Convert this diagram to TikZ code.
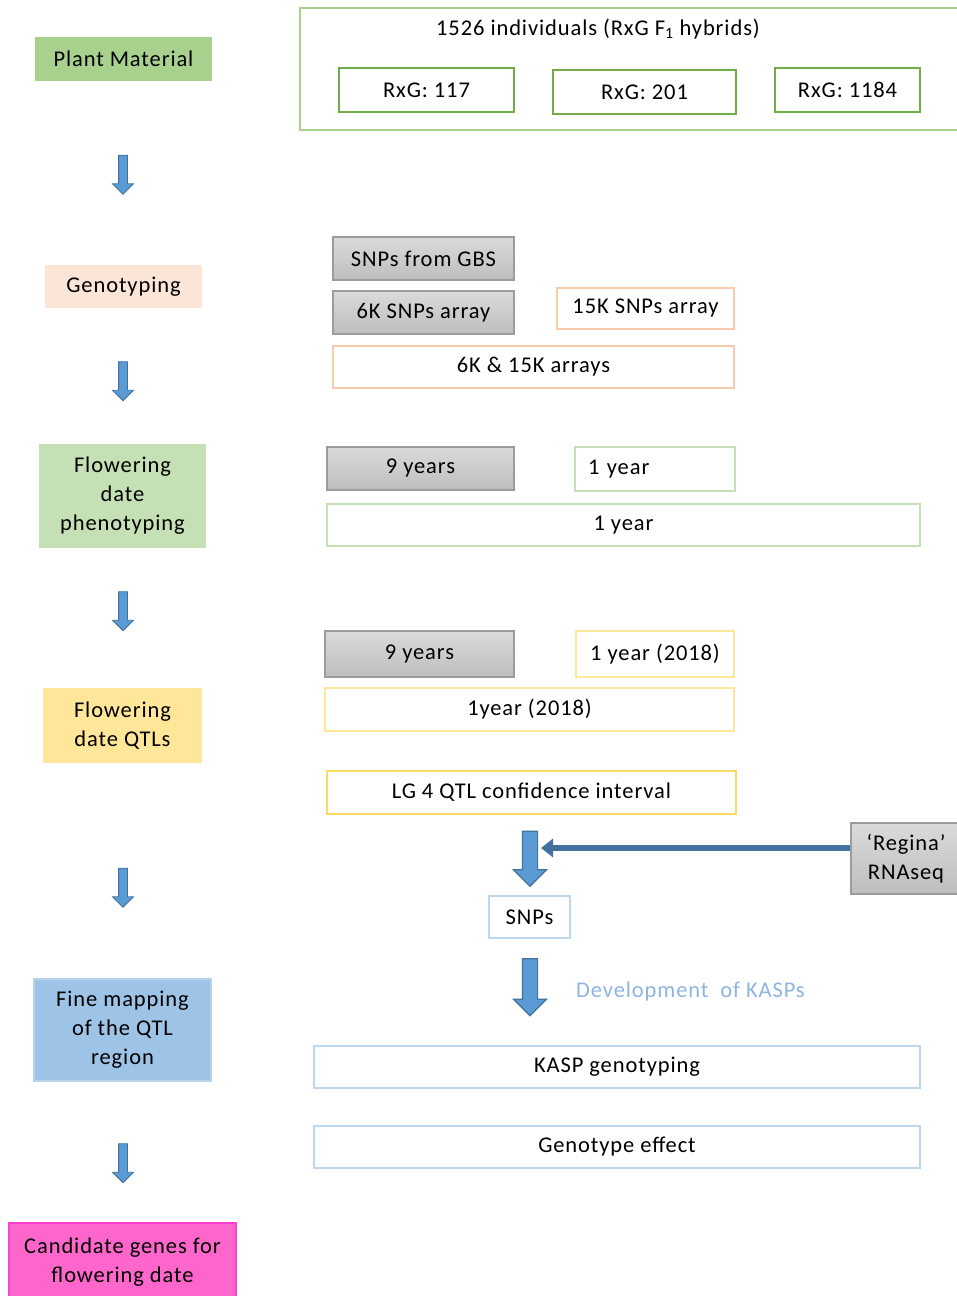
\documentclass[tikz,border=0pt]{standalone}
\usepackage{fontspec}
\setmainfont{Carlito}[LetterSpace=4]
\usetikzlibrary{arrows.meta,shapes.arrows}
\definecolor{PlantGreen}{HTML}{A9D18E}
\definecolor{RxgGreen}{HTML}{70AD47}
\definecolor{PhenoGreen}{HTML}{C5E0B4}
\definecolor{GenoPeach}{HTML}{FBE5D6}
\definecolor{EdgePeach}{HTML}{F8CBAD}
\definecolor{QtlYellow}{HTML}{FFE699}
\definecolor{EdgeYellow}{HTML}{FFD966}
\definecolor{FineBlue}{HTML}{9DC3E6}
\definecolor{EdgeBlue}{HTML}{BDD7EE}
\definecolor{KaspBlue}{HTML}{8EB4E3}
\definecolor{CandPink}{HTML}{FF66CC}
\definecolor{EdgePink}{HTML}{FF3FCF}
\definecolor{ArrowFill}{HTML}{5B9BD5}
\definecolor{ArrowEdge}{HTML}{41719C}
\definecolor{GrayTop}{HTML}{DADADA}
\definecolor{GrayBot}{HTML}{BEBEBE}
\definecolor{GrayEdge}{HTML}{9C9C9C}

\begin{document}
\begin{tikzpicture}[x=1pt, y=-1pt,
  every node/.style={font=\fontsize{22.5}{29}\selectfont, inner sep=0pt, align=center},
  sz/.style 2 args={minimum width=#1pt, minimum height=#2pt},
  stage/.style={draw=none},
  outline/.style={draw=#1, line width=2.5pt, fill=white},
  graybox/.style={draw=GrayEdge, line width=2.5pt, top color=GrayTop, bottom color=GrayBot},
  stepdown/.style={single arrow, draw=ArrowEdge, fill=ArrowFill, line width=0.8pt,
    shape border rotate=270, inner sep=4pt, single arrow head extend=6pt,
    single arrow head indent=0pt, minimum height=39pt},
  fatdown/.style={single arrow, draw=ArrowEdge, fill=ArrowFill, line width=1.2pt,
    shape border rotate=270, inner sep=7pt, single arrow head extend=9pt,
    single arrow head indent=0pt, minimum height=#1pt}]
  \useasboundingbox (0,0) rectangle (956,1296);

  % left column: stages
  \node[stage, fill=PlantGreen, sz={177}{44}] (plant) at (123.5,59) {Plant Material};
  \node[stage, fill=GenoPeach, sz={157}{43}] (geno) at (123.5,286.5) {Genotyping};
  \node[stage, fill=PhenoGreen, sz={167}{104}] (pheno) at (122.5,496) {Flowering\\date\\phenotyping};
  \node[stage, fill=QtlYellow, sz={159}{75}] (qtl) at (122.5,725.5) {Flowering\\date QTLs};
  \node[draw=EdgeBlue!80!FineBlue, line width=2pt, fill=FineBlue, sz={177}{102}] (fine) at (122.5,1030) {Fine mapping\\of the QTL\\region};
  \node[draw=EdgePink, line width=2pt, fill=CandPink, sz={227}{78}] (cand) at (122.5,1262) {Candidate genes for\\flowering date};
  \foreach \y [count=\i] in {172.5,379,609,885.5,1161} {
    \node[stepdown] (down\i) at (123,\y) {};
  }

  % plant material
  \node[outline=PlantGreen, sz={662}{122}] (pop) at (631,69) {};
  \node (popt) at (598,29) {1526 individuals (RxG F\textsubscript{1} hybrids)};
  \node[outline=RxgGreen, sz={175}{44}] (rxg117) at (426.5,90) {RxG: 117};
  \node[outline=RxgGreen, sz={183}{44}] (rxg201) at (644.5,92) {RxG: 201};
  \node[outline=RxgGreen, sz={145}{44}] (rxg1184) at (847.5,90) {RxG: 1184};

  % genotyping
  \node[graybox, sz={181}{43}] (gbs) at (423.5,258.5) {SNPs from GBS};
  \node[graybox, sz={181}{43}] (six) at (423.5,312.5) {6K SNPs array};
  \node[outline=EdgePeach, sz={177}{41}] (fifteen) at (645.5,308.5) {15K SNPs array};
  \node[outline=EdgePeach, sz={401}{42}] (both) at (533.5,367) {6K \& 15K arrays};

  % phenotyping
  \node[graybox, sz={187}{43}] (nineA) at (420.5,468.5) {9 years};
  \node[outline=PhenoGreen, text width=134pt, align=left, inner xsep=13pt, minimum height=44pt] (oneA) at (655,469) {1 year};
  \node[outline=PhenoGreen, sz={593}{42}] (oneAll) at (623.5,525) {1 year};

  % QTLs
  \node[graybox, sz={189}{46}] (nineB) at (419.5,654) {9 years};
  \node[outline=QtlYellow, sz={158}{46}] (oneB) at (655,654) {1 year (2018)};
  \node[outline=QtlYellow, sz={409}{43}] (oneBAll) at (529.5,709.5) {1year (2018)};
  \node[outline=EdgeYellow, sz={409}{43}] (lg4) at (531.5,792.5) {LG 4 QTL confidence interval};

  % fine mapping
  \node[fatdown=55] (fatA) at (530,855) {};
  \node[graybox, sz={110}{71}] (regina) at (906,858.5) {‘Regina’\\RNAseq};
  \coordinate (join) at (541,848);
  \draw[ArrowEdge, line width=6pt, -{Triangle[length=12pt, width=18pt]}] (regina.west |- join) -- (join);
  \node[outline=EdgeBlue, sz={81}{42}] (snps) at (529.5,917) {SNPs};
  \node[fatdown=57] (fatB) at (530,983.5) {};
  \node[anchor=west, text=KaspBlue] (kasp) at (576,991) {Development\ \ of KASPs};
  \node[outline=EdgeBlue, sz={606}{42}] (kaspg) at (617,1067) {KASP genotyping};
  \node[outline=EdgeBlue, sz={606}{42}] (geneff) at (617,1147) {Genotype effect};
\end{tikzpicture}
\end{document}
